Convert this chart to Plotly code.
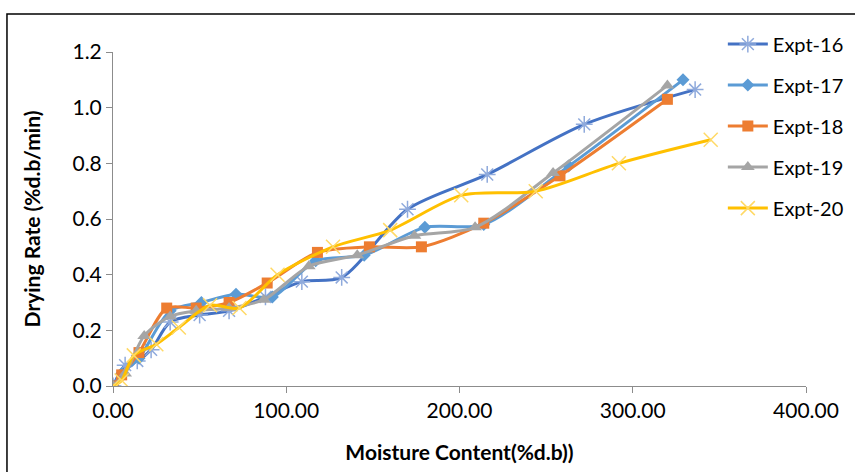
import plotly.graph_objects as go

# Moisture content (%d.b) and drying rate (%d.b/min) for each experiment
mc_16 = [0, 7, 14, 22, 33, 50, 67, 88, 109, 132, 170, 216, 272, 336]
dr_16 = [0, 0.075, 0.09, 0.13, 0.23, 0.255, 0.27, 0.32, 0.375, 0.39, 0.635, 0.76, 0.94, 1.065]

mc_17 = [0, 5, 15, 33, 51, 71, 92, 117, 145, 180, 214, 263, 329]
dr_17 = [0, 0.045, 0.10, 0.27, 0.30, 0.33, 0.32, 0.45, 0.47, 0.57, 0.58, 0.79, 1.10]

mc_18 = [0, 5, 15, 31, 48, 67, 89, 118, 148, 178, 214, 258, 320]
dr_18 = [0, 0.04, 0.12, 0.28, 0.28, 0.30, 0.37, 0.48, 0.50, 0.50, 0.585, 0.755, 1.03]

mc_19 = [0, 7, 18, 33, 48, 67, 87, 113, 141, 174, 209, 254, 320]
dr_19 = [0, 0.045, 0.18, 0.25, 0.27, 0.28, 0.31, 0.43, 0.47, 0.54, 0.57, 0.765, 1.08]

mc_20 = [0, 5, 12, 25, 38, 56, 73, 95, 127, 160, 201, 244, 292, 345]
dr_20 = [0, 0.02, 0.11, 0.15, 0.21, 0.29, 0.28, 0.40, 0.50, 0.56, 0.685, 0.70, 0.80, 0.885]

names = ["Expt-16", "Expt-17", "Expt-18", "Expt-19", "Expt-20"]
xs = [mc_16, mc_17, mc_18, mc_19, mc_20]
ys = [dr_16, dr_17, dr_18, dr_19, dr_20]

line_colors = ["#4472C4", "#5B9BD5", "#ED7D31", "#A5A5A5", "#FFC000"]
marker_styles = [
    dict(symbol="asterisk-open", size=14, color="#8FAADC", line=dict(width=1.5, color="#7F9FDB")),
    dict(symbol="diamond", size=10, color="#5B9BD5"),
    dict(symbol="square", size=11, color="#ED7D31"),
    dict(symbol="triangle-up", size=12, color="#A5A5A5"),
    dict(symbol="x-thin-open", size=14, color="#FFD966", line=dict(width=1.5, color="#FFD966")),
]

fig = go.Figure()
for name, x, y, lc, mk in zip(names, xs, ys, line_colors, marker_styles):
    fig.add_trace(go.Scatter(
        x=x, y=y, name=name, mode="lines+markers",
        line=dict(color=lc, width=3, shape="spline", smoothing=0.8),
        marker=mk, legendgroup=name,
    ))

family = "Lato, Calibri, sans-serif"
tick_font = dict(family=family, size=21, color="#000000")
title_font = dict(family=family, size=21, color="#000000")

fig.update_layout(
    width=855, height=472,
    margin=dict(l=113, r=49, t=52, b=86, autoexpand=False),
    paper_bgcolor="white", plot_bgcolor="white",
    font=tick_font,
    showlegend=True,
    legend=dict(
        x=0.88, y=1.082, xanchor="left", yanchor="top",
        font=dict(family=family, size=20, color="#000000"),
        tracegroupgap=12, itemwidth=40, bgcolor="rgba(0,0,0,0)",
    ),
    xaxis=dict(
        range=[0, 400], tickvals=[0, 100, 200, 300, 400], tickformat=".2f",
        showgrid=False, zeroline=False, showline=True, linecolor="#8C8C8C", linewidth=1,
        ticks="outside", ticklen=6, tickcolor="#8C8C8C",
        title=dict(text="<b>Moisture Content(%d.b))</b>", font=title_font, standoff=24),
        tickfont=tick_font,
    ),
    yaxis=dict(
        range=[0, 1.2], tickvals=[0, 0.2, 0.4, 0.6, 0.8, 1.0, 1.2], tickformat=".1f",
        showgrid=False, zeroline=False, showline=True, linecolor="#8C8C8C", linewidth=1,
        ticks="outside", ticklen=6, tickcolor="#8C8C8C",
        title=dict(text="<b>Drying Rate (%d.b/min)</b>", font=title_font, standoff=26),
        tickfont=tick_font,
    ),
    shapes=[dict(
        type="rect", xref="paper", yref="paper",
        x0=-0.153, y0=-0.5, x1=1.3, y1=1.114,
        line=dict(color="#000000", width=1.5), fillcolor="rgba(0,0,0,0)", layer="below",
    )],
)

fig.write_html("out.html")
